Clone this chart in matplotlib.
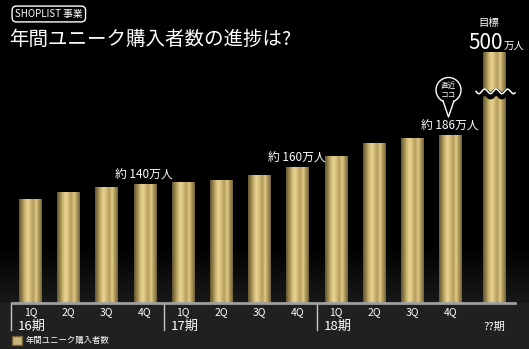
import numpy as np
import matplotlib
matplotlib.use('Agg')
import matplotlib.pyplot as plt
from matplotlib.colors import LinearSegmentedColormap
from matplotlib.patches import Patch, Circle, Polygon
import matplotlib.transforms as mtransforms

plt.rcParams['font.family'] = ['Noto Sans CJK JP', 'DejaVu Sans']

# data (万人)
quarters = ['1Q', '2Q', '3Q', '4Q'] * 3
periods = ['16期', '17期', '18期']
users = [126, 132, 137, 140, 142, 144, 148, 156, 166, 178, 183, 186]
target = 500
target_period = '??期'
callouts = {3: '約 140万人', 7: '約 160万人', 11: '約 186万人'}
series_name = '年間ユニーク購入者数'
title = '年間ユニーク購入者数の進捗は?'
badge = 'SHOPLIST 事業'

W, H = 529, 349
y_lo, y_hi = 28, 264
bar_w = 0.6
target_gap = 0.13


def fx(x):
    return x / W


def fy(y):
    return 1 - y / H


fig = plt.figure(figsize=(W / 100, H / 100), dpi=100)
fig.patch.set_facecolor('black')

# background: black top, dark grey band towards the bottom
bg = fig.add_axes([0, 0, 1, 1], zorder=-10)
ramp = (np.arange(H) - 245) / (303 - 245)
rows = np.clip(ramp, 0, 1) * 0.10
rows[303:] = 0.13
bg.imshow(rows[:, None] * np.ones((1, 4)), cmap='gray', vmin=0, vmax=1,
          aspect='auto', extent=[0, 1, 0, 1])
bg.axis('off')

ax = fig.add_axes([fx(12), fy(303), fx(515) - fx(12), fy(52) - fy(303)])
ax.set_facecolor('none')

gold = LinearSegmentedColormap.from_list('gold', [
    '#65562f', '#96834c', '#cbb572', '#e9d592', '#d4bc78', '#b39b5c',
    '#e0cb86', '#ab9559', '#73633a'])
grad = np.linspace(0, 1, 64)[None, :]

xs = list(np.arange(len(users))) + [len(users) + target_gap]
vals = users + [target]
bars = ax.bar(xs, [v - y_lo for v in vals], bottom=y_lo, width=bar_w,
              color='#c8b377', zorder=2)
for b in bars:
    x0 = b.get_x()
    top = min(b.get_y() + b.get_height(), y_hi)
    im = ax.imshow(grad, cmap=gold, aspect='auto', zorder=3,
                   extent=[x0, x0 + b.get_width(), y_lo, top])
    im.set_clip_path(b)

ax.set_xlim(-0.48, 12.68)
ax.set_ylim(y_lo, y_hi)

for s in ['top', 'right', 'left']:
    ax.spines[s].set_visible(False)
ax.spines['bottom'].set_color('#a0a0a0')
ax.spines['bottom'].set_linewidth(2)
ax.spines['bottom'].set_zorder(4)
ax.set_yticks([])
ax.set_xticks(xs[:-1])
ax.set_xticklabels(quarters, color='white', fontsize=7.5)
ax.tick_params(axis='x', length=0, pad=3)

# period separators and labels
tr = mtransforms.blended_transform_factory(ax.transData, ax.transAxes)
for k, p in enumerate(periods):
    sx = 4 * k - 0.5
    ax.plot([sx, sx], [0, -0.108], transform=tr, color='#c8c8c8', lw=1,
            clip_on=False)
    ax.text(sx + 0.17, -0.094, p, transform=tr, color='white', fontsize=9.5,
            ha='left', va='center')
ax.text(xs[-1], -0.094, target_period, transform=tr, color='white',
        fontsize=8, ha='center', va='center')

for i, txt in callouts.items():
    ax.annotate(txt, (xs[i], users[i]), xytext=(-1, 6.5),
                textcoords='offset points', ha='center', va='center',
                color='white', fontsize=8.5)

# title and badge
fig.text(fx(9), fy(39), title, color='white', fontsize=14, va='center')
fig.text(fx(15), fy(14), badge, color='white', fontsize=7, va='center',
         bbox=dict(boxstyle='round,pad=0.3,rounding_size=0.45',
                   fc='black', ec='white', lw=1))

# target labels
fig.text(fx(489), fy(23), '目標', color='white', fontsize=7.5,
         ha='center', va='center')
fig.text(fx(503), fy(49), '500', color='white', fontsize=15,
         ha='right', va='baseline')
fig.text(fx(504), fy(49), '万人', color='white', fontsize=7.5,
         ha='left', va='baseline')

# overlay in pixel coordinates for decorations
ov = fig.add_axes([0, 0, 1, 1], zorder=5)
ov.set_xlim(0, W)
ov.set_ylim(H, 0)
ov.axis('off')
ov.patch.set_alpha(0)

wx = np.linspace(476, 515, 200)
wy = 94 + 2.3 * np.sin((wx - 476) / 11.5 * 2 * np.pi)
ov.plot(wx, wy, color='black', lw=4.5, solid_capstyle='butt')
ov.plot(wx, wy - 2.6, color='white', lw=1.1)

ov.add_patch(Circle((448.5, 90), 12.5, fc='black', ec='white', lw=1))
ov.add_patch(Polygon([(443, 100.5), (448.5, 117), (454, 100.5)],
                     closed=True, fc='black', ec='none'))
ov.plot([443, 448.5, 454], [100.8, 117, 100.8], color='white', lw=1)
ov.text(448.5, 85.5, '直近', color='white', fontsize=5.5, ha='center',
        va='center')
ov.text(448.5, 95, 'ココ', color='white', fontsize=5.5, ha='center',
        va='center')

ax.legend(handles=[Patch(facecolor='#c9b57a', edgecolor='#6f6038')],
          labels=[series_name], loc='lower left',
          bbox_to_anchor=(fx(9), fy(348)), bbox_transform=fig.transFigure,
          fontsize=6, labelcolor='white', frameon=False, handlelength=1.2,
          handleheight=1.2, handletextpad=0.5, borderaxespad=0.1,
          borderpad=0.2)

fig.savefig('out.png', dpi=100, facecolor='black')
